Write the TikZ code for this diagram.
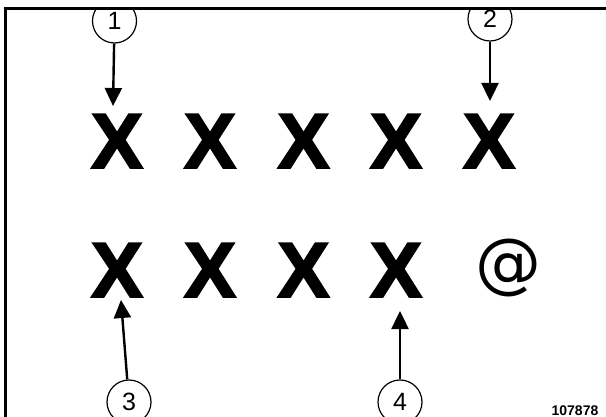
\documentclass[tikz,border=0pt]{standalone}
\usepackage{fontspec}
\setmainfont{Liberation Sans}
\newfontfamily\heavyfont[FakeBold=2.5]{Liberation Sans Bold}
\newfontfamily\roundfont{DejaVu Sans}
\usetikzlibrary{arrows.meta}
\begin{document}
\begin{tikzpicture}[x=1pt,y=-1pt,
  bigx/.style={anchor=base, inner sep=0pt, font=\fontsize{78}{78}\heavyfont},
  atsign/.style={anchor=base, inner sep=0pt, font=\fontsize{66}{66}\roundfont},
  callout/.style={circle, draw, line width=1.2pt, minimum size=44pt, inner sep=0pt, font=\fontsize{25}{25}\selectfont},
  pointer/.style={line width=2.4pt, -{Triangle[length=18pt,width=17pt]}},
  frameline/.style={line width=3pt},
  refnum/.style={anchor=base, inner sep=0pt, font=\fontsize{14}{14}\selectfont\bfseries}]
\useasboundingbox (0,0) rectangle (606,417);
% letters, row 1
\node[bigx] (a1) at (117,168) {X};
\node[bigx] (a2) at (210,168) {X};
\node[bigx] (a3) at (303.5,168) {X};
\node[bigx] (a4) at (396,168) {X};
\node[bigx] (a5) at (489,168) {X};
% letters, row 2
\node[bigx] (b1) at (117,297) {X};
\node[bigx] (b2) at (210,297) {X};
\node[bigx] (b3) at (303.5,297) {X};
\node[bigx] (b4) at (396,297) {X};
\node[atsign] (b5) at (508,286) {@};
% callouts
\begin{scope}
\clip (0,9) rectangle (606,417);
\node[callout] (c1) at (114.5,21) {1};
\node[callout] (c2) at (490,19) {2};
\node[callout] (c3) at (129,402) {3};
\node[callout] (c4) at (400,402) {4};
\end{scope}
\coordinate (t1) at (113,106);
\coordinate (t2) at (490,101);
\coordinate (t3) at (121,300);
\coordinate (t4) at (400,311);
\draw[pointer] (c1) -- (t1);
\draw[pointer] (c2) -- (t2);
\draw[pointer] (c3) -- (t3);
\draw[pointer] (c4) -- (t4);
% frame
\draw[frameline] (5.5,417) -- (5.5,9) -- (606,9);
\node[refnum] (r) at (575,415) {107878};
\end{tikzpicture}
\end{document}
